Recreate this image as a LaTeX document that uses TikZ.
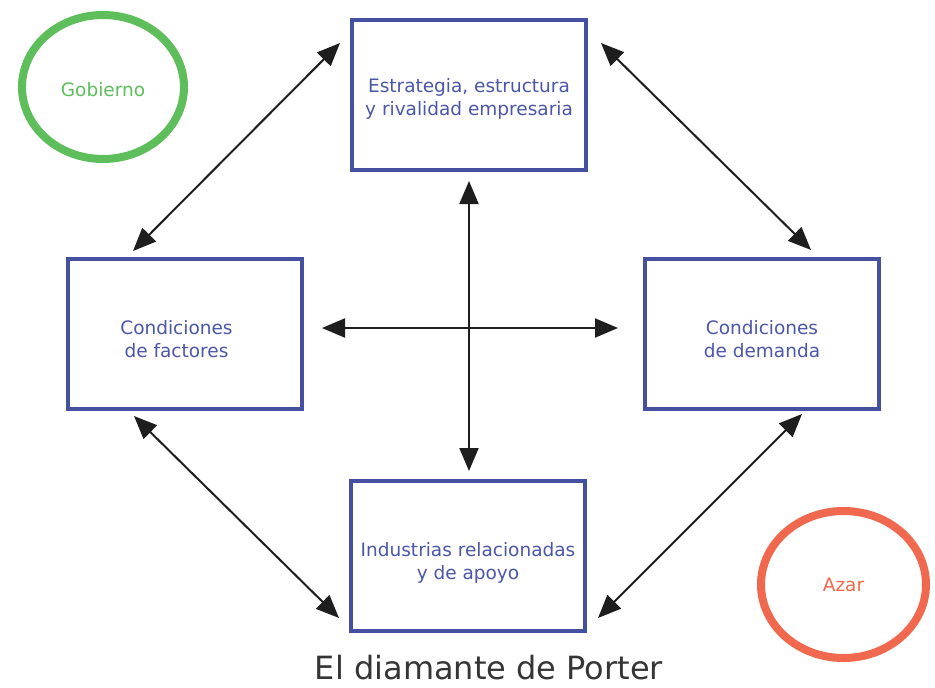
\documentclass[tikz,border=0pt]{standalone}
\usepackage{fontspec}
\setmainfont{DejaVu Sans}
\usetikzlibrary{arrows.meta,shapes.geometric}
\definecolor{boxblue}{HTML}{4650A0}
\definecolor{txtblue}{HTML}{4A56A8}
\definecolor{gov}{HTML}{5DBE5B}
\definecolor{azar}{HTML}{F0694E}
\definecolor{arr}{HTML}{1E1E1E}
\tikzset{
  box/.style={draw=boxblue, line width=4pt, minimum width=234pt, minimum height=150pt, inner sep=0pt},
  boxtext/.style={text=txtblue, font=\fontsize{18.5}{23}\selectfont, align=center, inner sep=0pt},
  ring/.style={ellipse, line width=8pt, inner sep=0pt},
  dbl/.style={draw=arr, line width=2pt, {Triangle[length=23pt,width=19pt]}-{Triangle[length=23pt,width=19pt]}},
}
\begin{document}
\begin{tikzpicture}[x=1pt,y=-1pt]
\useasboundingbox (0,0) rectangle (935,688);
\node[box] (top) at (469,95) {};
\node[box] (left) at (184.5,334) {};
\node[box] (right) at (762,334) {};
\node[box] (bot) at (468,556) {};
\node[boxtext] (ttop) at ([yshift=-4pt]top.center) {Estrategia, estructura\\y rivalidad empresaria};
\node[boxtext] (tleft) at ([xshift=-8pt,yshift=-5pt]left.center) {Condiciones\\de factores};
\node[boxtext] (tright) at ([yshift=-5pt]right.center) {Condiciones\\de demanda};
\node[boxtext] (tbot) at ([yshift=-7pt]bot.center) {Industrias relacionadas\\y de apoyo};
\node[ring, draw=gov, minimum width=162pt, minimum height=144pt] (gob) at (103,87) {};
\node[text=gov, font=\fontsize{18.5}{22}\selectfont] (tgob) at ([yshift=-3pt]gob.center) {Gobierno};
\node[ring, draw=azar, minimum width=165pt, minimum height=147pt, text=azar, font=\fontsize{18.5}{22}\selectfont] (az) at (843.5,584.5) {Azar};
\node[text=arr!90, font=\fontsize{32}{36}\selectfont] (title) at (489,668) {El diamante de Porter};
\coordinate (v1) at (469,181);
\coordinate (v2) at (469,471);
\coordinate (h1) at (322,328);
\coordinate (h2) at (618,328);
\coordinate (a1) at (133,251);
\coordinate (a2) at (340,43);
\coordinate (b1) at (601,43);
\coordinate (b2) at (811,250);
\coordinate (c1) at (134,416);
\coordinate (c2) at (339,618);
\coordinate (d1) at (598,618);
\coordinate (d2) at (802,414);
\draw[dbl] (v1) -- (v2);
\draw[dbl] (h1) -- (h2);
\draw[dbl] (a1) -- (a2);
\draw[dbl] (b1) -- (b2);
\draw[dbl] (c1) -- (c2);
\draw[dbl] (d1) -- (d2);
\end{tikzpicture}
\end{document}
